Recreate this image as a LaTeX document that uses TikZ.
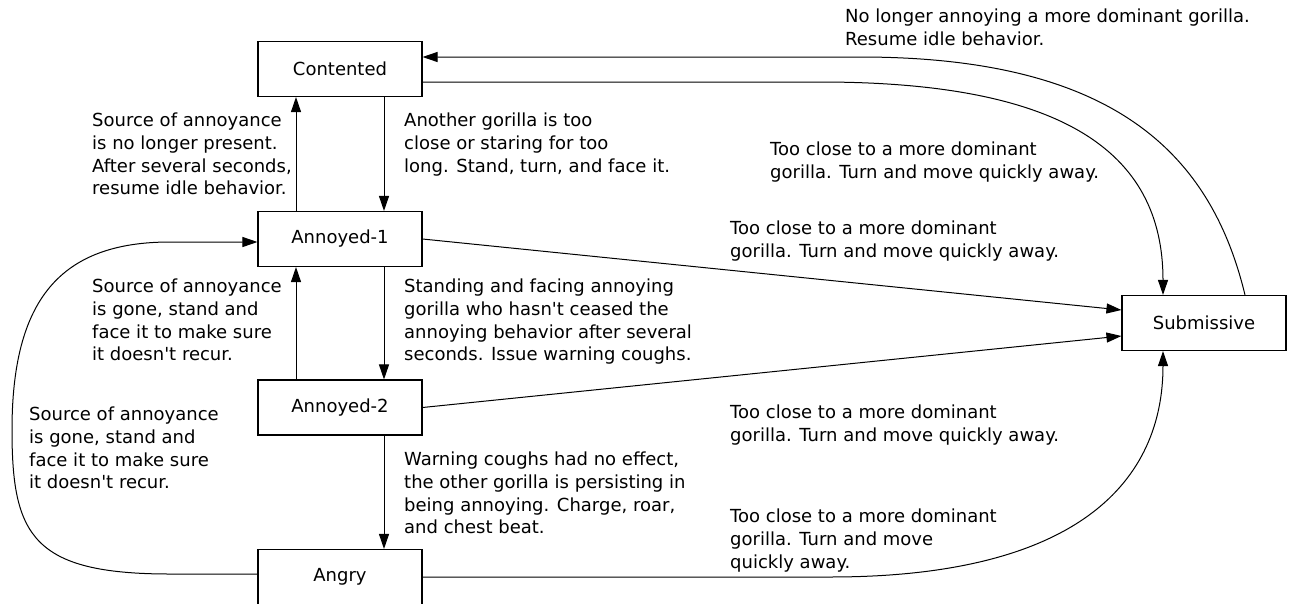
\documentclass[tikz,border=0pt]{standalone}
\usepackage{fontspec}
\setmainfont{DejaVu Sans}
\usetikzlibrary{arrows.meta}
\begin{document}
\begin{tikzpicture}[x=1pt,y=-1pt,
  state/.style={draw, line width=1.1pt, minimum width=164pt, minimum height=55pt, inner sep=0pt, font=\fontsize{18}{22.7}\selectfont},
  lbl/.style={align=left, anchor=north west, inner sep=0pt, font=\fontsize{18}{22.7}\selectfont},
  arr/.style={line width=1pt, -{Triangle[length=15pt,width=10pt]}}]
\useasboundingbox (0,0) rectangle (1291,603);
\fill[white] (0,0) rectangle (1291,603);

\node[state] (contented) at (340,69) {Contented};
\node[state] (a1) at (340,239) {Annoyed-1};
\node[state] (a2) at (340,407.5) {Annoyed-2};
\node[state] (angry) at (340,577) {Angry};
\node[state] (sub) at (1204,323) {Submissive};

% vertical transitions
\draw[arr] ([xshift=44pt]contented.south) -- ([xshift=44pt]a1.north);
\draw[arr] ([xshift=-44pt]a1.north) -- ([xshift=-44pt]contented.south);
\draw[arr] ([xshift=44pt]a1.south) -- ([xshift=44pt]a2.north);
\draw[arr] ([xshift=-44pt]a2.north) -- ([xshift=-44pt]a1.south);
\draw[arr] ([xshift=44pt]a2.south) -- ([xshift=44pt]angry.north);

% to submissive
\draw[arr] (a1.east) -- ([yshift=13pt]sub.west);
\draw[arr] (a2.east) -- ([yshift=-13pt]sub.west);
\draw[arr] ([yshift=-13pt]contented.east) -- (820,82) .. controls (1060,82) and (1163,150) .. ([xshift=-41pt]sub.north);
\draw[arr] ([xshift=41pt]sub.north) .. controls (1210,150) and (1110,57) .. (860,57) -- ([yshift=12pt]contented.east);
\draw[arr] (angry.east) -- (830,577) .. controls (1080,577) and (1163,480) .. ([xshift=-41pt]sub.south);

% angry back to annoyed-1
\draw[arr] ([yshift=3pt]angry.west) -- (170,574) .. controls (32,574) and (12,535) .. (12,430) .. controls (12,300) and (60,242) .. (170,242) -- ([yshift=-3pt]a1.west);

% labels
\node[lbl] (l0) at (845,9) {No longer annoying a more dominant gorilla.\\Resume idle behavior.};
\node[lbl] (l1) at (92,113) {Source of annoyance\\is no longer present.\\After several seconds,\\resume idle behavior.};
\node[lbl] (l2) at (404,113) {Another gorilla is too\\close or staring for too\\long. Stand, turn, and face it.};
\node[lbl] (l3) at (770,142) {Too close to a more dominant\\gorilla. Turn and move quickly away.};
\node[lbl] (l4) at (730,221) {Too close to a more dominant\\gorilla. Turn and move quickly away.};
\node[lbl] (l5) at (92,279) {Source of annoyance\\is gone, stand and\\face it to make sure\\it doesn\textquotesingle t recur.};
\node[lbl] (l6) at (404,279) {Standing and facing annoying\\gorilla who hasn\textquotesingle t ceased the\\annoying behavior after several\\seconds. Issue warning coughs.};
\node[lbl] (l7) at (730,405) {Too close to a more dominant\\gorilla. Turn and move quickly away.};
\node[lbl] (l8) at (29,407) {Source of annoyance\\is gone, stand and\\face it to make sure\\it doesn\textquotesingle t recur.};
\node[lbl] (l9) at (404,452) {Warning coughs had no effect,\\the other gorilla is persisting in\\being annoying. Charge, roar,\\and chest beat.};
\node[lbl] (l10) at (730,509) {Too close to a more dominant\\gorilla. Turn and move\\quickly away.};
\end{tikzpicture}
\end{document}
